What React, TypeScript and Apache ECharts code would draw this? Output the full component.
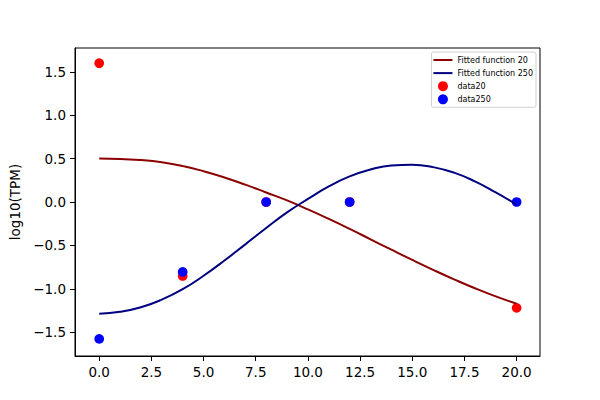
import React, { useEffect, useRef } from "react";
import * as echarts from "echarts";

const curveX = [0, 1, 2, 3, 4, 5, 6, 7, 8, 9, 10, 11, 12, 13, 14, 15, 16, 17, 18, 19, 20];
const fitted20 = [0.5, 0.497, 0.484, 0.458, 0.415, 0.355, 0.283, 0.2, 0.11, 0.018, -0.085, -0.195, -0.31, -0.43, -0.55, -0.668, -0.782, -0.891, -0.994, -1.088, -1.172];
const fitted250 = [-1.287, -1.265, -1.213, -1.125, -1.005, -0.85, -0.675, -0.488, -0.3, -0.12, 0.035, 0.18, 0.295, 0.375, 0.422, 0.43, 0.402, 0.338, 0.238, 0.11, -0.03];

// Observed data
const dataX = [0, 4, 8, 12, 20];
const data20 = [1.6, -0.853, 0, 0, -1.22];
const data250 = [-1.578, -0.806, 0, 0, 0];

// Tick values
const xTicks = [0, 2.5, 5, 7.5, 10, 12.5, 15, 17.5, 20];
const yTicks = [-1.5, -1.0, -0.5, 0, 0.5, 1.0, 1.5];

const fmt = (v: number) => v.toFixed(1).replace("-", "\u2212");

export default function App() {
  const ref = useRef<HTMLDivElement>(null);
  useEffect(() => {
    if (!ref.current) return;
    const chart = echarts.init(ref.current, null, { renderer: "svg" });
    const font = "DejaVu Sans";
    const axisCommon = {
      type: "value",
      axisLine: { show: true, onZero: false, lineStyle: { color: "#000", width: 1 } },
      splitLine: { show: false },
    };
    chart.setOption({
      animation: false,
      backgroundColor: "#fff",
      textStyle: { fontFamily: font },
      grid: {
        left: 75,
        right: 60,
        top: 48,
        bottom: 44,
        show: true,
        borderColor: "#000",
        borderWidth: 1,
        backgroundColor: "transparent",
      },
      xAxis: {
        ...axisCommon,
        min: -1.16,
        max: 21.12,
        axisTick: {
          show: true,
          customValues: xTicks,
          length: 5,
          lineStyle: { color: "#000", width: 1 },
        },
        axisLabel: {
          customValues: xTicks,
          formatter: (v: number) => fmt(v),
          color: "#000",
          fontSize: 13.5,
          fontFamily: font,
          margin: 9,
        },
      },
      yAxis: {
        ...axisCommon,
        min: -1.775,
        max: 1.775,
        name: "log10(TPM)",
        nameLocation: "middle",
        nameRotate: 90,
        nameGap: 49,
        nameTextStyle: { color: "#000", fontSize: 13.5, fontFamily: font },
        axisTick: {
          show: true,
          customValues: yTicks,
          length: 5,
          lineStyle: { color: "#000", width: 1 },
        },
        axisLabel: {
          customValues: yTicks,
          formatter: (v: number) => fmt(v),
          color: "#000",
          fontSize: 13.5,
          fontFamily: font,
          margin: 9,
        },
      },
      legend: {
        orient: "vertical",
        right: 64,
        top: 52,
        itemWidth: 19,
        itemHeight: 10,
        itemGap: 3.1,
        padding: [3, 3, 3, 1],
        borderColor: "#d0d0d0",
        borderWidth: 1,
        borderRadius: 2,
        backgroundColor: "#fff",
        textStyle: { fontSize: 8, color: "#000", fontFamily: font, lineHeight: 10 },
        data: [
          { name: "Fitted function 20", itemStyle: { opacity: 0 } },
          { name: "Fitted function 250", itemStyle: { opacity: 0 } },
          { name: "data20", icon: "circle" },
          { name: "data250", icon: "circle" },
        ],
      },
      series: [
        {
          name: "data20",
          type: "scatter",
          z: 1,
          symbolSize: 9.7,
          itemStyle: { color: "#ff0000", opacity: 1 },
          data: dataX.map((x, i) => [x, data20[i]]),
        },
        {
          name: "data250",
          type: "scatter",
          z: 1,
          symbolSize: 9.7,
          itemStyle: { color: "#0000ff", opacity: 1 },
          data: dataX.map((x, i) => [x, data250[i]]),
        },
        {
          name: "Fitted function 20",
          type: "line",
          z: 3,
          symbol: "none",
          smooth: 0.5,
          lineStyle: { color: "#8b0000", width: 2 },
          itemStyle: { color: "#8b0000" },
          data: curveX.map((x, i) => [x, fitted20[i]]),
        },
        {
          name: "Fitted function 250",
          type: "line",
          z: 3,
          symbol: "none",
          smooth: 0.5,
          lineStyle: { color: "#000080", width: 2 },
          itemStyle: { color: "#000080" },
          data: curveX.map((x, i) => [x, fitted250[i]]),
        },
      ],
    });
    return () => chart.dispose();
  }, []);
  return (
    <div
      ref={ref}
      style={{ position: "fixed", left: 0, top: 0, width: 600, height: 400, background: "#fff" }}
    />
  );
}
